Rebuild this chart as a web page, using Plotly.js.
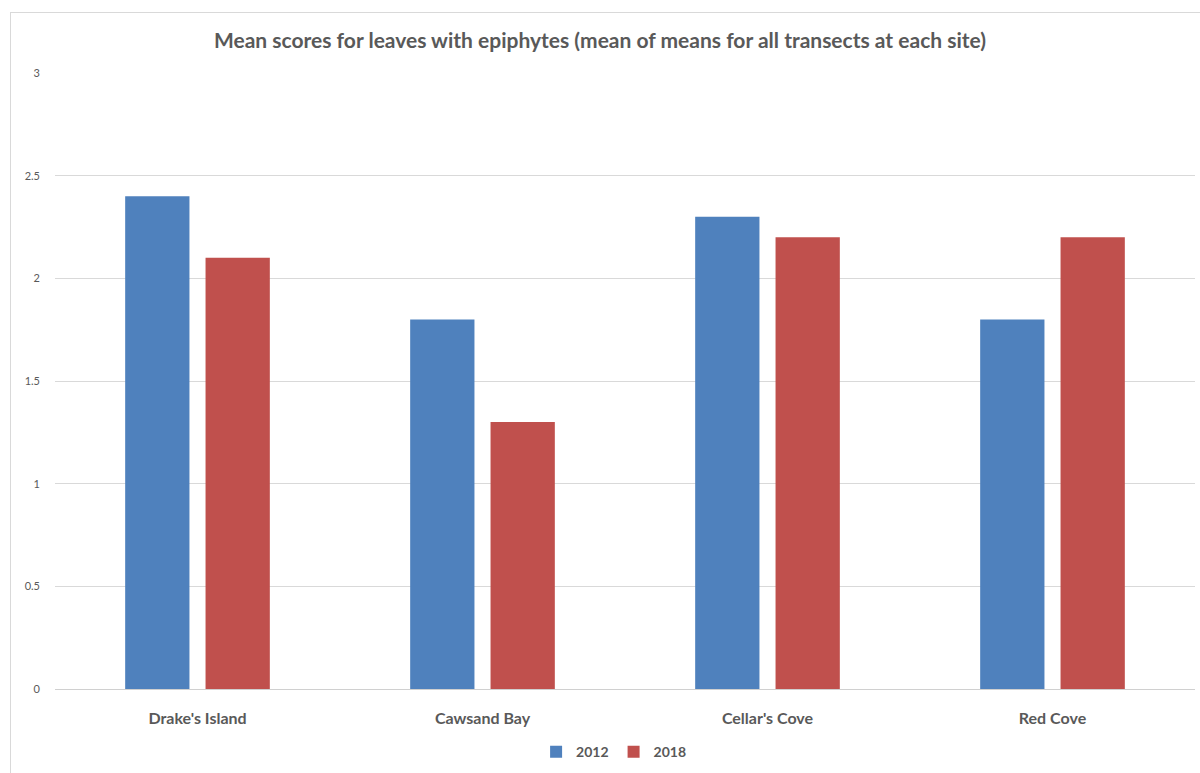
<!DOCTYPE html>
<html>
<head>
<meta charset="utf-8">
<script src="https://cdn.plot.ly/plotly-3.0.1.min.js"></script>
<style>
  html, body { margin: 0; padding: 0; background: #fff; }
  #chart { width: 1200px; height: 773px; position: relative; }
  #frame { position: absolute; left: 10px; top: 12px; width: 1200px; height: 800px; border: 1px solid #d9d9d9; pointer-events: none; box-sizing: border-box; }
</style>
</head>
<body>
<div id="chart"></div>
<div id="frame"></div>
<script>
const sites = ["Drake's Island", "Cawsand Bay", "Cellar's Cove", "Red Cove"];
const values2012 = [2.4, 1.8, 2.3, 1.8];
const values2018 = [2.1, 1.3, 2.2, 2.2];
const yTicks = [0, 0.5, 1, 1.5, 2, 2.5, 3];
const yTickLabels = ["0", "0.5", "1", "1.5", "2", "2.5", "3"];

const font = "Lato, 'Open Sans', sans-serif";
const traces = [
  { type: 'bar', name: '2012', x: sites, y: values2012, marker: { color: '#4f81bd' } },
  { type: 'bar', name: '2018', x: sites, y: values2018, marker: { color: '#c0504d' } }
];
const layout = {
  width: 1200, height: 773,
  paper_bgcolor: 'rgba(0,0,0,0)', plot_bgcolor: '#fff',
  margin: { l: 55, r: 5, t: 73, b: 84 },
  barmode: 'group', bargap: 0.436, bargroupgap: 0.2,
  title: { text: '<b>Mean scores for leaves with epiphytes (mean of means for all transects at each site)</b>',
           font: { family: font, size: 21, color: '#595959' }, x: 0.5, xanchor: 'center', y: 0.948, yanchor: 'middle' },
  xaxis: { showgrid: false, showline: false, zeroline: false, ticks: '', ticklabelstandoff: 18,
           tickfont: { family: font, size: 16, color: '#595959', weight: 'bold' } },
  yaxis: { range: [0, 3], tickvals: yTicks, ticktext: yTickLabels, showgrid: true, gridcolor: '#d9d9d9',
           zeroline: true, zerolinecolor: '#d0d0d0', zerolinewidth: 1, showline: false, ticks: '',
           ticklabelstandoff: 14, tickfont: { family: font, size: 11, color: '#595959' } },
  showlegend: true,
  legend: { orientation: 'h', x: 0.49, xanchor: 'center', yref: 'container', y: 0.027, yanchor: 'middle',
            font: { family: font, size: 14, color: '#595959', weight: 'bold' }, itemwidth: 30, traceorder: 'normal' }
};
Plotly.newPlot('chart', traces, layout, { displayModeBar: false });
</script>
</body>
</html>
